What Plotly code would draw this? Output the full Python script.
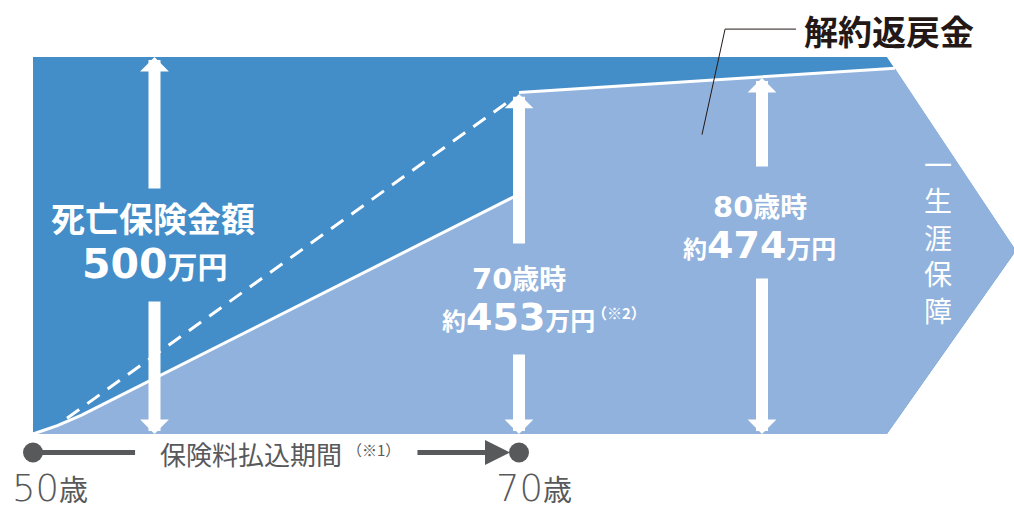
import plotly.graph_objects as go

# ---- data (age in years, amounts in 万円) ----
death_benefit = 500
pay_start_age = 50
pay_end_age = 70
curve_ages = [50, 51, 52, 70]          # surrender value during payment period
curve_values = [0, 11, 25, 318]
after_ages = [70, 80, 85.47]           # surrender value after payment
after_values = [453, 474, 485]
dash_ages = [51.4, 69.7]               # dashed guide
dash_values = [21, 444]
shape_end_age = 85.14                  # end of rectangle body
tip_age = 90.45                        # tip of "lifetime" arrow
tip_value = 243
label_ages = [55, 70, 80]

DARK = "rgb(67,141,201)"
LIGHT = "rgb(144,178,220)"
GRAY = "#58595b"
JP = "Noto Sans CJK JP"
NUM = "DejaVu Sans"

fig = go.Figure()

# dark body (death benefit)
fig.add_trace(go.Scatter(
    x=[pay_start_age, pay_start_age, shape_end_age, tip_age, shape_end_age, pay_start_age],
    y=[0, death_benefit, death_benefit, tip_value, 0, 0],
    fill="toself", fillcolor=DARK, line=dict(width=0), mode="lines",
    hoverinfo="skip", showlegend=False))

# light area (surrender value)
lx = curve_ages + after_ages + [tip_age, shape_end_age, pay_start_age]
ly = curve_values + after_values + [tip_value, 0, 0]
fig.add_trace(go.Scatter(x=lx, y=ly, fill="toself", fillcolor=LIGHT,
                         line=dict(width=0), mode="lines", hoverinfo="skip", showlegend=False))

# white boundary lines
fig.add_trace(go.Scatter(x=curve_ages, y=curve_values, mode="lines",
                         line=dict(color="white", width=3), hoverinfo="skip", showlegend=False))
fig.add_trace(go.Scatter(x=after_ages, y=after_values, mode="lines",
                         line=dict(color="white", width=3), hoverinfo="skip", showlegend=False))
fig.add_trace(go.Scatter(x=dash_ages, y=dash_values, mode="lines",
                         line=dict(color="white", width=3, dash="15px,10px"),
                         hoverinfo="skip", showlegend=False))

# leader line for 解約返戻金
fig.add_trace(go.Scatter(x=[81.4, 78.48, 77.53], y=[537, 537, 397], mode="lines",
                         line=dict(color="#231815", width=1), hoverinfo="skip", showlegend=False))

# timeline
fig.add_trace(go.Scatter(x=[pay_start_age, 54.2], y=[-24.5, -24.5], mode="lines",
                         line=dict(color=GRAY, width=5), hoverinfo="skip", showlegend=False))
fig.add_trace(go.Scatter(x=[pay_start_age, pay_end_age], y=[-24.5, -24.5], mode="markers",
                         marker=dict(color=GRAY, size=20), hoverinfo="skip", showlegend=False))

ann = []
def arrow(x, y_head, y_tail, color="white", width=12, head=1, size=0.4):
    ann.append(dict(x=x, y=y_head, ax=x, ay=y_tail, xref="x", yref="y", axref="x", ayref="y",
                    text="", showarrow=True, arrowhead=head, arrowsize=size,
                    arrowwidth=width, arrowcolor=color, standoff=0))

# vertical white arrows
arrow(label_ages[0], death_benefit, 323.6)
arrow(label_ages[0], 0, 177.7)
arrow(label_ages[1], after_values[0] - 2, 250.7)
arrow(label_ages[1], 0, 107.4)
arrow(label_ages[2], after_values[1] - 2, 352.8)
arrow(label_ages[2], 0, 208.2)

# timeline arrow
ann.append(dict(x=69.63, y=-24.5, ax=65.76, ay=-24.5, xref="x", yref="y", axref="x", ayref="y",
                text="", showarrow=True, arrowhead=2, arrowsize=1.0, arrowwidth=5,
                arrowcolor=GRAY, standoff=0))

def label(x, y, text, size, color="white", weight="bold", family=JP):
    ann.append(dict(x=x, y=y, xref="x", yref="y", text=text, showarrow=False,
                    xanchor="center", yanchor="middle",
                    font=dict(family=family, size=size, color=color, weight=weight)))

label(54.92, 286.5, "死亡保険金額", 34)
label(55.0, 225.0, f"<span style='font-family:{NUM};font-size:41px'>{death_benefit}</span>万円", 30)

label(70.02, 207.5, f"<span style='font-family:{NUM};font-size:29px'>{pay_end_age}</span>歳時", 27)
label(69.97, 155.5, f"約<span style='font-family:{NUM};font-size:38px'>{after_values[0]}</span><span style='font-size:25px'>万円</span>", 24)
label(74.1, 160.5, "（※2）", 15)

label(79.9, 302.5, f"<span style='font-family:{NUM};font-size:29px'>80</span>歳時", 27)
label(79.88, 251, f"約<span style='font-family:{NUM};font-size:38px'>{after_values[1]}</span><span style='font-size:25px'>万円</span>", 24)

label(87.24, 261.3, "一<br>生<br>涯<br>保<br>障", 28, weight="normal")
label(85.22, 534.5, "解約返戻金", 34, color="#231815")

label(58.97, -26.5, "保険料払込期間", 26, color=GRAY, weight="normal")
label(64.0, -20.5, "（※1）", 15, color=GRAY, weight="normal")

label(50.7, -72.5, f"<span style='font-family:{NUM};font-size:37px;font-weight:200'>{pay_start_age}</span><span style='font-size:29px'>歳</span>", 26, color=GRAY, weight="normal")
label(70.62, -72.5, f"<span style='font-family:{NUM};font-size:37px;font-weight:200'>{pay_end_age}</span><span style='font-size:29px'>歳</span>", 26, color=GRAY, weight="normal")

fig.update_layout(
    width=1014, height=506, autosize=False,
    margin=dict(l=0, r=0, t=0, b=0),
    paper_bgcolor="white", plot_bgcolor="white",
    xaxis=dict(range=[48.642, 90.370], visible=False, fixedrange=True),
    yaxis=dict(range=[-95.49, 575.6], visible=False, fixedrange=True),
    annotations=ann, showlegend=False,
    font=dict(family=JP),
)

fig.write_html("out.html", config={"displayModeBar": False},
               post_script="document.body.style.margin='0';document.body.style.overflow='hidden';")
